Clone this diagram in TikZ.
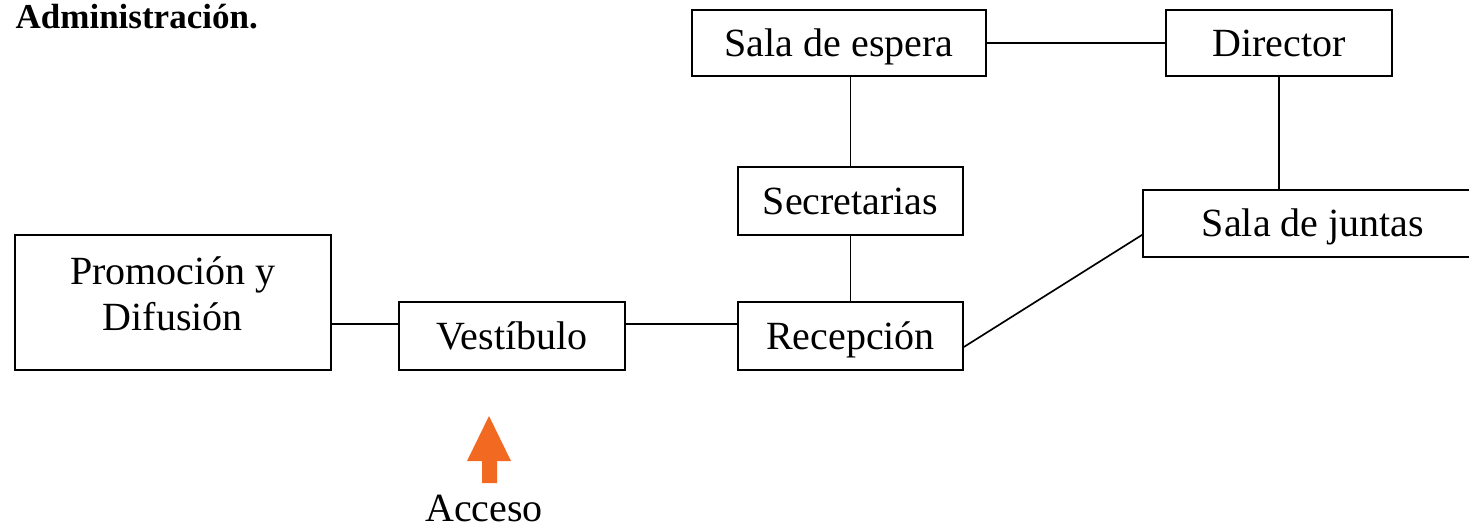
\documentclass[tikz,border=0pt]{standalone}
\usepackage{fontspec}
\setmainfont{Liberation Serif}
\usepackage{xcolor}
\usepackage{tikz}
\definecolor{accesoorange}{HTML}{F26A22}

\begin{document}
\begin{tikzpicture}[x=0.3pt,y=-0.3pt]
\tikzstyle{every node}+=[inner sep=0pt]
\tikzstyle{room}=[draw=black, line width=0.5pt, font=\fontsize{12pt}{13.8pt}\selectfont, align=center]
\tikzstyle{oneline}=[room, text height=10.6pt, text depth=2.6pt]
\tikzstyle{link}=[black, line width=0.5pt]
\useasboundingbox (0,0) rectangle (1469,529);
\node [anchor=base west, font=\fontsize{10.5pt}{12pt}\selectfont\bfseries] (titulo) at (15,28) {Administración.};
\node [oneline, minimum width=88.2pt, minimum height=19.8pt] (espera) at (839,43) {Sala de espera};
\node [oneline, minimum width=67.8pt, minimum height=19.8pt] (director) at (1279,43) {Director};
\node [oneline, minimum width=67.5pt, minimum height=20.4pt] (secretarias) at (850.5,201) {Secretarias};
\node [oneline, minimum width=102pt, minimum height=20.1pt] (juntas) at (1313,223.5) {Sala de juntas};
\node [room, minimum width=94.8pt, minimum height=40.5pt] (promocion) at (173,302.5) {Promoción y\\Difusión\rule[-5.4pt]{0pt}{0pt}};
\node [oneline, minimum width=67.8pt, minimum height=20.4pt] (vestibulo) at (512,336) {Vestíbulo};
\node [oneline, minimum width=67.5pt, minimum height=20.4pt] (recepcion) at (850.5,336) {Recepción};
\draw [link] (espera.east) -- (director.west);
\draw [link] (secretarias.north) -- (secretarias.north |- espera.south);
\draw [link] (secretarias.south) -- (recepcion.north);
\draw [link] (director.south) -- (director.south |- juntas.north);
\draw [link] ([yshift=3.6pt]vestibulo.west) -- ([yshift=3.6pt]vestibulo.west -| promocion.east);
\draw [link] ([yshift=3.6pt]vestibulo.east) -- ([yshift=3.6pt]vestibulo.east -| recepcion.west);
\draw [link] ([yshift=-3.3pt]recepcion.east) -- ([yshift=-3.4pt]juntas.west);
\fill [accesoorange] (482,483) -- (482,461) -- (467,461) -- (489,416) -- (511,461) -- (497,461) -- (497,483) -- cycle;
\node [anchor=base, font=\fontsize{12pt}{13.8pt}\selectfont] (acceso) at (484,521) {Acceso};
\end{tikzpicture}
\end{document}
